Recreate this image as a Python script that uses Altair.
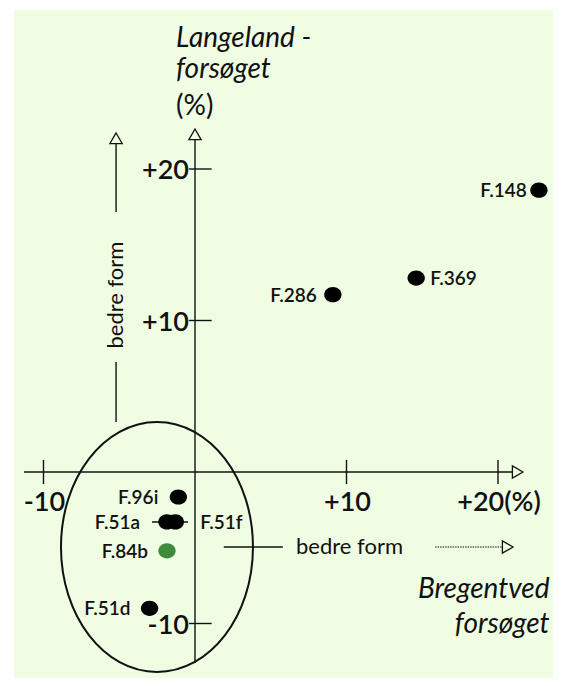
import altair as alt
import pandas as pd

# ---------------- data ----------------
names = ["F.148", "F.369", "F.286", "F.96i", "F.51a", "F.51f", "F.84b", "F.51d"]
bregentved = [22.7, 14.6, 9.1, -1.1, -1.85, -1.3, -1.85, -3.0]   # x, %
langeland = [18.6, 12.8, 11.7, -1.65, -3.3, -3.3, -5.2, -9.0]     # y, %
highlight = ["no", "no", "no", "no", "no", "no", "yes", "no"]

x_tick_values = [-10, 10, 20]
x_tick_labels = ["-10", "+10", "+20(%)"]
y_tick_values = [20, 10, -10]
y_tick_labels = ["+20", "+10", "-10"]
y_title_lines = ["Langeland -", "forsøget", "(%)"]
x_title_lines = ["Bregentved", "forsøget"]
direction_text = "bedre form"

# ---------------- layout (data coordinates) ----------------
S = 15.15
xs = alt.Scale(domain=[-181 / S, 358 / S], nice=False, zero=False)
ys = alt.Scale(domain=[-206 / S, 462 / S], nice=False, zero=False)
FONT = "Lato"
INK = "#111111"
BG = "#EFFDE3"


def enc(chart, **kw):
    return chart.encode(
        x=alt.X("x:Q", scale=xs, axis=None),
        y=alt.Y("y:Q", scale=ys, axis=None),
        **kw,
    )


pts = pd.DataFrame({"name": names, "x": bregentved, "y": langeland, "hl": highlight})

# axis lines, ticks, arrow shafts
segs = [
    (0, -12.6, 0, 21.94),            # y axis
    (-11.29, 0, 20.95, 0),           # x axis
]
segs += [(v, -0.8, v, 0.8) for v in x_tick_values]
segs += [(-0.4, v, 1.1, v) for v in y_tick_values]
segs += [
    (-2.84, -3.3, -0.46, -3.3),      # connector through F.51a / F.51f
    (1.9, -4.95, 5.8, -4.95),        # horizontal "bedre form" lead-in
    (-5.21, 21.68, -5.21, 17.16),    # vertical arrow shaft
    (-5.21, 7.26, -5.21, 3.30),      # vertical lead-in
]
seg_df = pd.DataFrame(segs, columns=["x", "y", "x2", "y2"])
rules = enc(alt.Chart(seg_df).mark_rule(color=INK, strokeWidth=1.4)).encode(
    x2="x2:Q", y2="y2:Q"
)

dash_df = pd.DataFrame([(15.85, -4.95, 20.29, -4.95)], columns=["x", "y", "x2", "y2"])
dashed = enc(
    alt.Chart(dash_df).mark_rule(color=INK, strokeWidth=1, strokeDash=[1.5, 1])
).encode(x2="x2:Q", y2="y2:Q")

up_df = pd.DataFrame({"x": [0, -5.21], "y": [22.29, 22.03]})
up_arrows = enc(
    alt.Chart(up_df).mark_point(
        shape="triangle-up", size=150, filled=True, fill=BG, stroke=INK,
        strokeWidth=1.3, opacity=1
    )
)
right_df = pd.DataFrame({"x": [21.3, 20.64], "y": [0, -4.95]})
right_arrows = enc(
    alt.Chart(right_df).mark_point(
        shape="triangle-right", size=150, filled=True, fill=BG, stroke=INK,
        strokeWidth=1.3, opacity=1
    )
)

# ellipse around the cluster
ell_df = pd.DataFrame({"x": [-2.51], "y": [-4.95]})
ellipse = enc(
    alt.Chart(ell_df).mark_point(
        shape="M-0.768,0A0.768,1 0 1,1 0.768,0A0.768,1 0 1,1 -0.768,0Z",
        size=62500, filled=False, stroke=INK, strokeWidth=2, opacity=1
    )
)

# dots
dots = enc(
    alt.Chart(pts).mark_point(
        shape="M-1,0A1,0.88 0 1,1 1,0A1,0.88 0 1,1 -1,0Z",
        size=300, filled=True, opacity=1, strokeWidth=0
    ),
    color=alt.Color(
        "hl:N", scale=alt.Scale(domain=["no", "yes"], range=["#000000", "#3f8a3c"]),
        legend=None,
    ),
)

# point labels (placement per label)
label_style = {
    "F.148": ("right", -12),
    "F.286": ("right", -16),
    "F.369": ("left", 14),
    "F.96i": ("right", -20),
    "F.84b": ("right", -19),
    "F.51d": ("right", -19),
    "F.51a": ("right", -27),
    "F.51f": ("left", 25),
}
label_layers = []
for style in sorted(set(label_style.values())):
    members = [n for n, s in label_style.items() if s == style]
    label_layers.append(
        enc(
            alt.Chart(pts[pts["name"].isin(members)]).mark_text(
                align=style[0], baseline="middle", dx=style[1], dy=1,
                font=FONT, fontSize=19, fontWeight=600, color=INK
            ),
            text="name:N",
        )
    )

# tick labels
xt_df = pd.DataFrame({"x": x_tick_values, "y": [0] * 3, "t": x_tick_labels})
xt = enc(
    alt.Chart(xt_df).mark_text(
        align="center", baseline="middle", dy=31, dx=1, font=FONT,
        fontSize=27, fontWeight=600, color=INK
    ),
    text="t:N",
)
yt_df = pd.DataFrame({"x": [0] * 3, "y": y_tick_values, "t": y_tick_labels})
yt = enc(
    alt.Chart(yt_df).mark_text(
        align="right", baseline="middle", dx=-6, dy=2, font=FONT,
        fontSize=27, fontWeight=600, color=INK
    ),
    text="t:N",
)

# axis titles
ytitle_df = pd.DataFrame({"x": [-1.25] * 3, "y": [28.05, 26.0, 23.55], "t": y_title_lines,
                          "st": ["italic", "italic", "normal"]})
ytitle_it = enc(
    alt.Chart(ytitle_df[ytitle_df["st"] == "italic"]).mark_text(
        align="left", baseline="alphabetic", font=FONT, fontStyle="italic",
        fontSize=28, color=INK
    ),
    text="t:N",
)
ytitle_pct = enc(
    alt.Chart(ytitle_df[ytitle_df["st"] == "normal"]).mark_text(
        align="left", baseline="alphabetic", font=FONT, fontSize=28, color=INK
    ),
    text="t:N",
)
xtitle_df = pd.DataFrame({"x": [23.4] * 2, "y": [-8.3, -10.6], "t": x_title_lines})
xtitle = enc(
    alt.Chart(xtitle_df).mark_text(
        align="right", baseline="alphabetic", font=FONT, fontStyle="italic",
        fontSize=28, color=INK
    ),
    text="t:N",
)

# "bedre form" annotations
hdir_df = pd.DataFrame({"x": [10.2], "y": [-4.95], "t": [direction_text]})
hdir = enc(
    alt.Chart(hdir_df).mark_text(
        align="center", baseline="middle", font=FONT, fontSize=22, color=INK
    ),
    text="t:N",
)
vdir_df = pd.DataFrame({"x": [-5.21], "y": [11.68], "t": [direction_text]})
vdir = enc(
    alt.Chart(vdir_df).mark_text(
        align="center", baseline="middle", angle=270, font=FONT, fontSize=22,
        color=INK
    ),
    text="t:N",
)

chart = alt.layer(
    ellipse, rules, dashed, up_arrows, right_arrows, dots, *label_layers,
    xt, yt, ytitle_it, ytitle_pct, xtitle, hdir, vdir,
).properties(
    width=539, height=668,
    padding={"left": 6, "top": 2, "right": 0, "bottom": 0},
    autosize=alt.AutoSizeParams(type="none"),
    background="#FFFFFF",
).configure_view(fill=BG, stroke=None)

chart.save("out.html", embed_options={"renderer": "svg", "actions": False})
